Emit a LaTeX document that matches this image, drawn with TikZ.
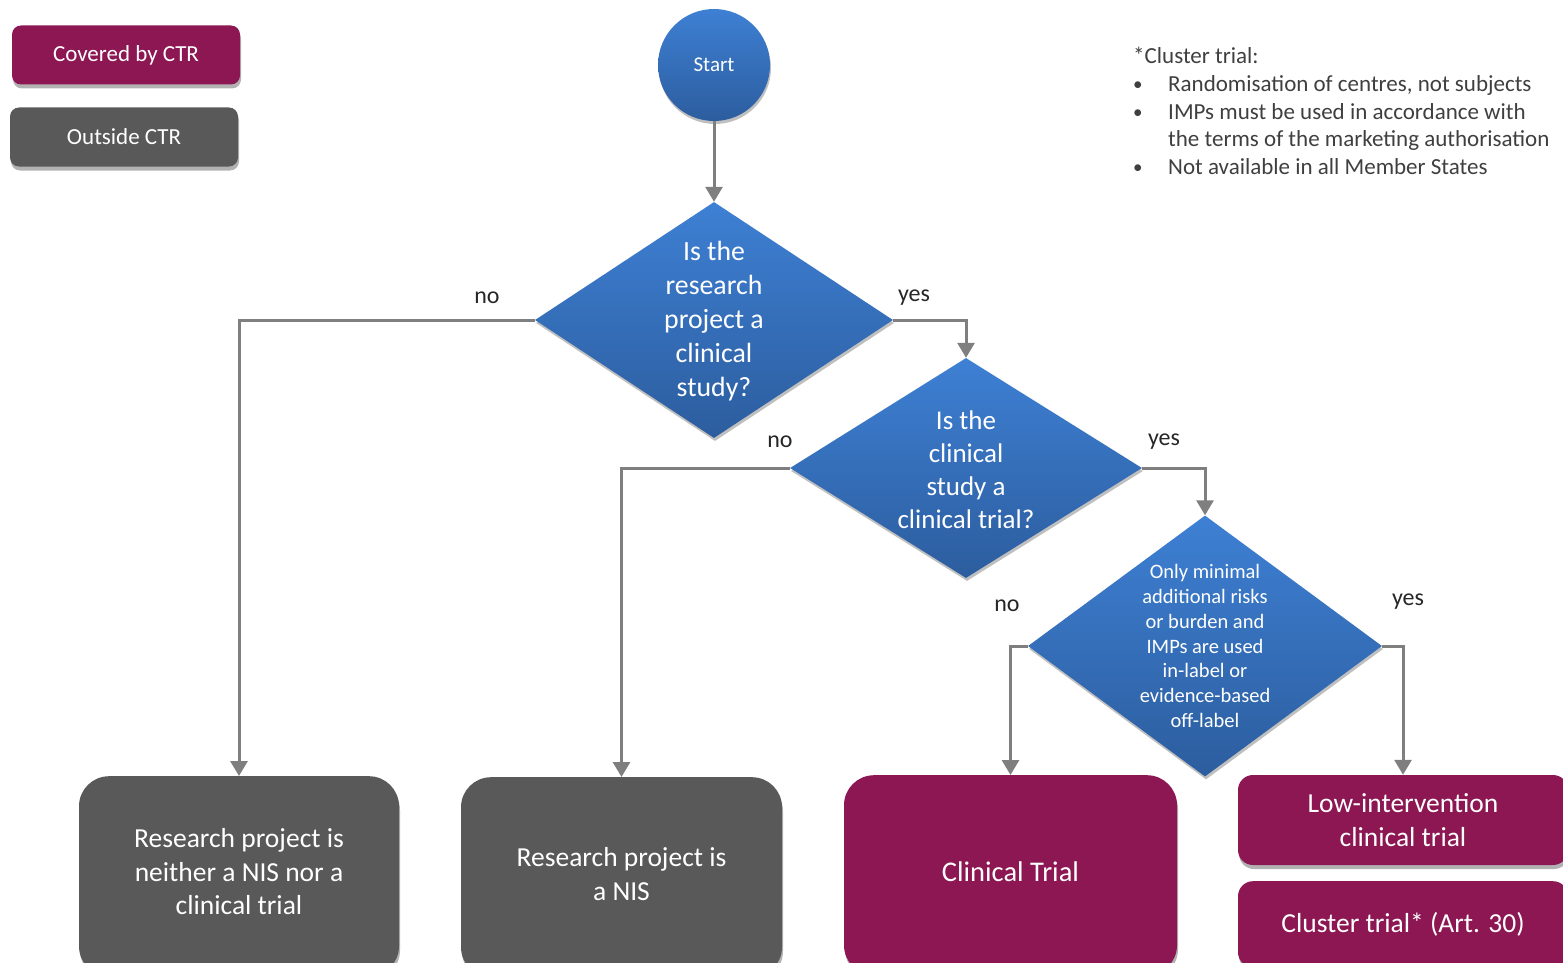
\documentclass[tikz,border=0pt]{standalone}
\usepackage{fontspec}
\setmainfont{Carlito}
\usetikzlibrary{shapes.geometric,arrows.meta,shadows}
\definecolor{ctrpurple}{HTML}{8C1752}
\definecolor{ctrgray}{HTML}{595959}
\definecolor{bluetop}{HTML}{3E80D4}
\definecolor{bluebot}{HTML}{2C5D9E}
\definecolor{arrgray}{HTML}{7F7F7F}
\definecolor{notegray}{HTML}{3F3F3F}
\newcommand{\notebul}{\makebox[35pt][l]{\raisebox{1pt}{\fontsize{19}{19}\selectfont\textbullet}}}
\tikzset{
  shd/.style={drop shadow={opacity=0.3,shadow xshift=1pt,shadow yshift=-4pt,fill=black}},
  legendbox/.style={draw=none,rounded corners=9pt,minimum width=228pt,minimum height=59pt,text=white,font=\fontsize{23}{26}\selectfont,shd,inner sep=0pt},
  resbox/.style={draw=none,rounded corners=30pt,text=white,align=center,inner sep=0pt,shd},
  smallbox/.style={draw=none,rounded corners=15pt,text=white,align=center,inner sep=0pt,font=\fontsize{27.5}{33.5}\selectfont,shd},
  boxtext/.style={font=\fontsize{27.5}{33.5}\selectfont,text=white,align=center,inner sep=0pt},
  dia/.style={diamond,draw=none,inner sep=0pt,top color=bluetop,bottom color=bluebot,drop shadow={opacity=0.25,shadow xshift=1pt,shadow yshift=-3pt,fill=black}},
  dtext/.style={text=white,align=center,inner sep=0pt},
  arr/.style={draw=arrgray,line width=3pt,-{Triangle[width=17pt,length=15pt]}},
  lbl/.style={text=black!85,font=\fontsize{24}{28}\selectfont,inner sep=0pt},
}
\begin{document}
\begin{tikzpicture}[x=1pt,y=-1pt]
\useasboundingbox (0,0) rectangle (1563,963);
\clip (0,0) rectangle (1563,963);
% legend
\node[legendbox,fill=ctrpurple] (lc) at (126,55) {Covered by CTR};
\node[legendbox,fill=ctrgray] (lo) at (124,137) {Outside CTR};
% start
\node[circle,minimum size=112pt,inner sep=0pt,top color=bluetop,bottom color=bluebot,text=white,font=\fontsize{21}{24}\selectfont,drop shadow={opacity=0.25,shadow xshift=1pt,shadow yshift=-3pt,fill=black}] (start) at (714,65) {Start};
% diamonds
\node[dia,minimum width=358pt,minimum height=236pt] (d1) at (714,320) {};
\node[dtext,font=\fontsize{27.8}{34}\selectfont] (d1t) at (714,321) {Is the\\research\\project a\\clinical\\study?};
\node[dia,minimum width=352pt,minimum height=220pt] (d2) at (966,468) {};
\node[dtext,font=\fontsize{27}{33}\selectfont] (d2t) at (966,470) {Is the\\clinical\\study a\\clinical trial?};
\node[dia,minimum width=354pt,minimum height=261pt] (d3) at (1205,646) {};
\node[dtext,font=\fontsize{20.5}{24.7}\selectfont] (d3t) at (1205,646) {Only minimal\\additional risks\\or burden and\\IMPs are used\\in-label or\\evidence-based\\off-label};
% bottom boxes
\node[resbox,fill=ctrgray,minimum width=320pt,minimum height=200pt,anchor=north] (ba) at (239,776) {};
\node[boxtext] (bat) at (239,872) {Research project is\\neither a NIS nor a\\clinical trial};
\node[resbox,fill=ctrgray,minimum width=321pt,minimum height=200pt,anchor=north] (bb) at (621.5,777) {};
\node[boxtext] (bbt) at (621.5,874) {Research project is\\a NIS};
\node[resbox,fill=ctrpurple,minimum width=333pt,minimum height=200pt,anchor=north] (bc) at (1010.5,775) {};
\node[boxtext,font=\fontsize{28.5}{33.5}\selectfont] (bct) at (1010.5,872) {Clinical Trial};
\node[smallbox,fill=ctrpurple,minimum width=330pt,minimum height=90pt] (bd) at (1403,820) {Low-intervention\\clinical trial};
\node[smallbox,fill=ctrpurple,minimum width=330pt,minimum height=86pt,anchor=north] (be) at (1403,881) {};
\node[boxtext] (bet) at (1403,924) {Cluster trial* (Art. 30)};
% note
\node[anchor=north west,text=notegray,inner sep=0pt,font=\fontsize{23}{27.8}\selectfont,align=left] (note) at (1133,47) {%
*Cluster trial:\\
\notebul Randomisation of centres, not subjects\\
\notebul IMPs must be used in accordance with\\
\makebox[35pt][l]{}the terms of the marketing authorisation\\
\notebul Not available in all Member States};
% connectors
\draw[arr] (start.south) -- (d1.north);
\draw[arr] (d1.west) -| (ba.north);
\draw[arr] (d1.east) -| (d2.north);
\draw[arr] (d2.west) -| (bb.north);
\draw[arr] (d2.east) -| (d3.north);
\draw[arr] (d3.west) -| (bc.north);
\draw[arr] (d3.east) -| (bd.north);
% labels
\node[lbl] (l1) at (487,298) {no};
\node[lbl] (l2) at (914,298) {yes};
\node[lbl] (l3) at (780,442) {no};
\node[lbl] (l4) at (1164,442) {yes};
\node[lbl] (l5) at (1007,606) {no};
\node[lbl] (l6) at (1408,602) {yes};
\end{tikzpicture}
\end{document}
